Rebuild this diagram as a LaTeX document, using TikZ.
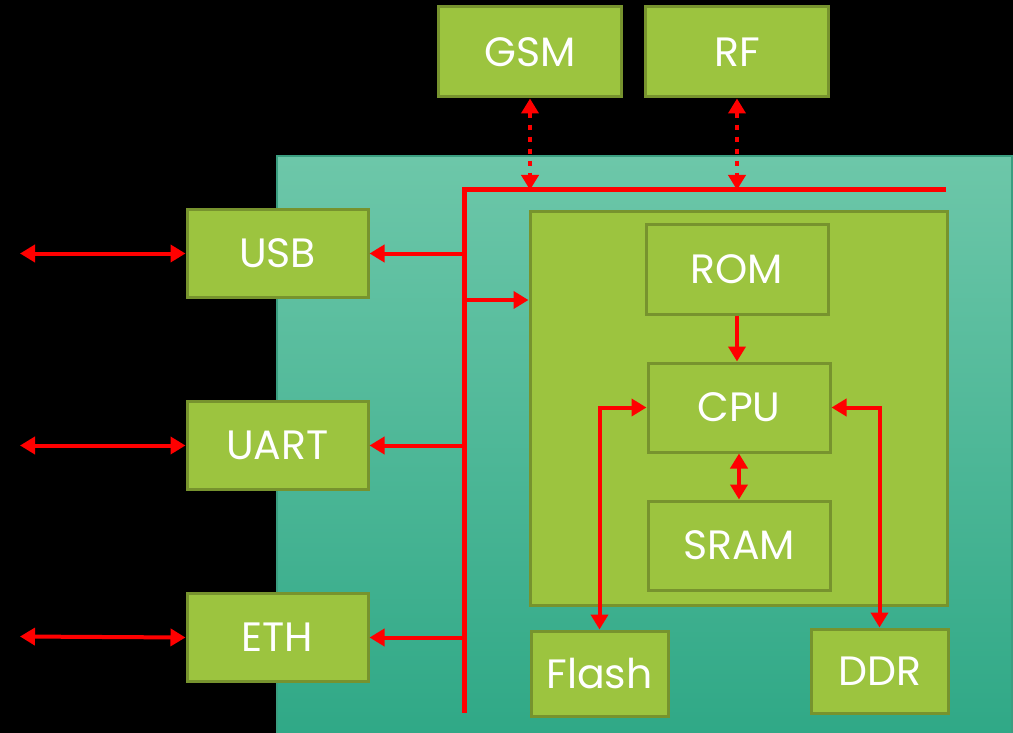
\documentclass[tikz,border=0pt]{standalone}
\usepackage{fontspec}
\setmainfont{Poppins}
\usetikzlibrary{arrows.meta}
\definecolor{boxfill}{HTML}{9CC43F}
\definecolor{boxline}{HTML}{77932E}
\definecolor{tealtop}{HTML}{6DC7A9}
\definecolor{tealbot}{HTML}{2FA886}
\definecolor{tealline}{HTML}{3A9E80}
\definecolor{wire}{HTML}{FF0000}
\tikzset{
  box/.style={draw=boxline, fill=boxfill, line width=3pt, inner sep=0pt,
    text=white, font=\fontsize{41}{46}\selectfont},
  wirel/.style={draw=wire, line width=4pt},
  tip/.style={wirel, arrows={-Triangle[length=15pt,width=17pt]}},
  tips/.style={wirel, arrows={Triangle[length=15pt,width=17pt]-Triangle[length=15pt,width=17pt]}},
  dots/.style={dash pattern=on 5pt off 7pt},
  busline/.style={draw=wire, line width=5pt}
}
\begin{document}
\begin{tikzpicture}[x=1pt,y=-1pt]
\fill[black] (0,0) rectangle (1013,733);
\useasboundingbox (0,0) rectangle (1013,733);
\shade[top color=tealtop, bottom color=tealbot] (277,156) rectangle (1012,740);
\draw[tealline, line width=1.5pt] (277,740) -- (277,156) -- (1012,156) -- (1012,740);

% nodes
\node[box, minimum width=183pt, minimum height=90pt] (gsm) at (530,52) {GSM};
\node[box, minimum width=183pt, minimum height=90pt] (rf) at (737,52) {RF};
\node[box, minimum width=181pt, minimum height=88pt] (usb) at (277.5,253.5) {USB};
\node[box, minimum width=181pt, minimum height=88pt] (uart) at (277.5,445.5) {UART};
\node[box, minimum width=181pt, minimum height=88pt] (eth) at (277.5,637.5) {ETH};
\node[box, minimum width=417pt, minimum height=393pt] (soc) at (738.5,408.5) {};
\node[box, minimum width=182pt, minimum height=89pt] (rom) at (737,269.5) {ROM};
\node[box, minimum width=182pt, minimum height=89pt] (cpu) at (739,407.5) {CPU};
\node[box, minimum width=182pt, minimum height=89pt] (sram) at (739,545.5) {SRAM};
\node[box, minimum width=137pt, minimum height=85pt] (flash) at (599.5,673.5) {Flash};
\node[box, minimum width=137pt, minimum height=84pt] (ddr) at (879.5,671) {DDR};

% bus
\coordinate (busTL) at (464,190);
\coordinate (busR) at (946,190);
\coordinate (busB) at (464,713);
\coordinate (socin) at (464,300);
\coordinate (extusb) at (20,253.5);
\coordinate (extuart) at (20,445.5);
\coordinate (exteth) at (20,636.5);
\draw[busline, line cap=butt] (busR) -- (busTL) -- (busB);

% connectors
\draw[tips, dots] (gsm.south) -- (gsm.south |- busTL);
\draw[tips, dots] (rf.south) -- (rf.south |- busTL);
\draw[tips] (extusb) -- (usb.west);
\draw[tips] (extuart) -- (uart.west);
\draw[tips] (exteth) -- (eth.west);
\draw[tip] (usb.east -| busB) -- (usb.east);
\draw[tip] (uart.east -| busB) -- (uart.east);
\draw[tip] (eth.east -| busB) -- (eth.east);
\draw[tip] (socin) -- (socin -| soc.west);
\draw[tip] (rom.south) -- (rom.south |- cpu.north);
\draw[tips] (cpu.south) -- (sram.north);
\draw[tips] (cpu.west) -| (flash.north);
\draw[tips] (cpu.east) -| (ddr.north);
\end{tikzpicture}
\end{document}
